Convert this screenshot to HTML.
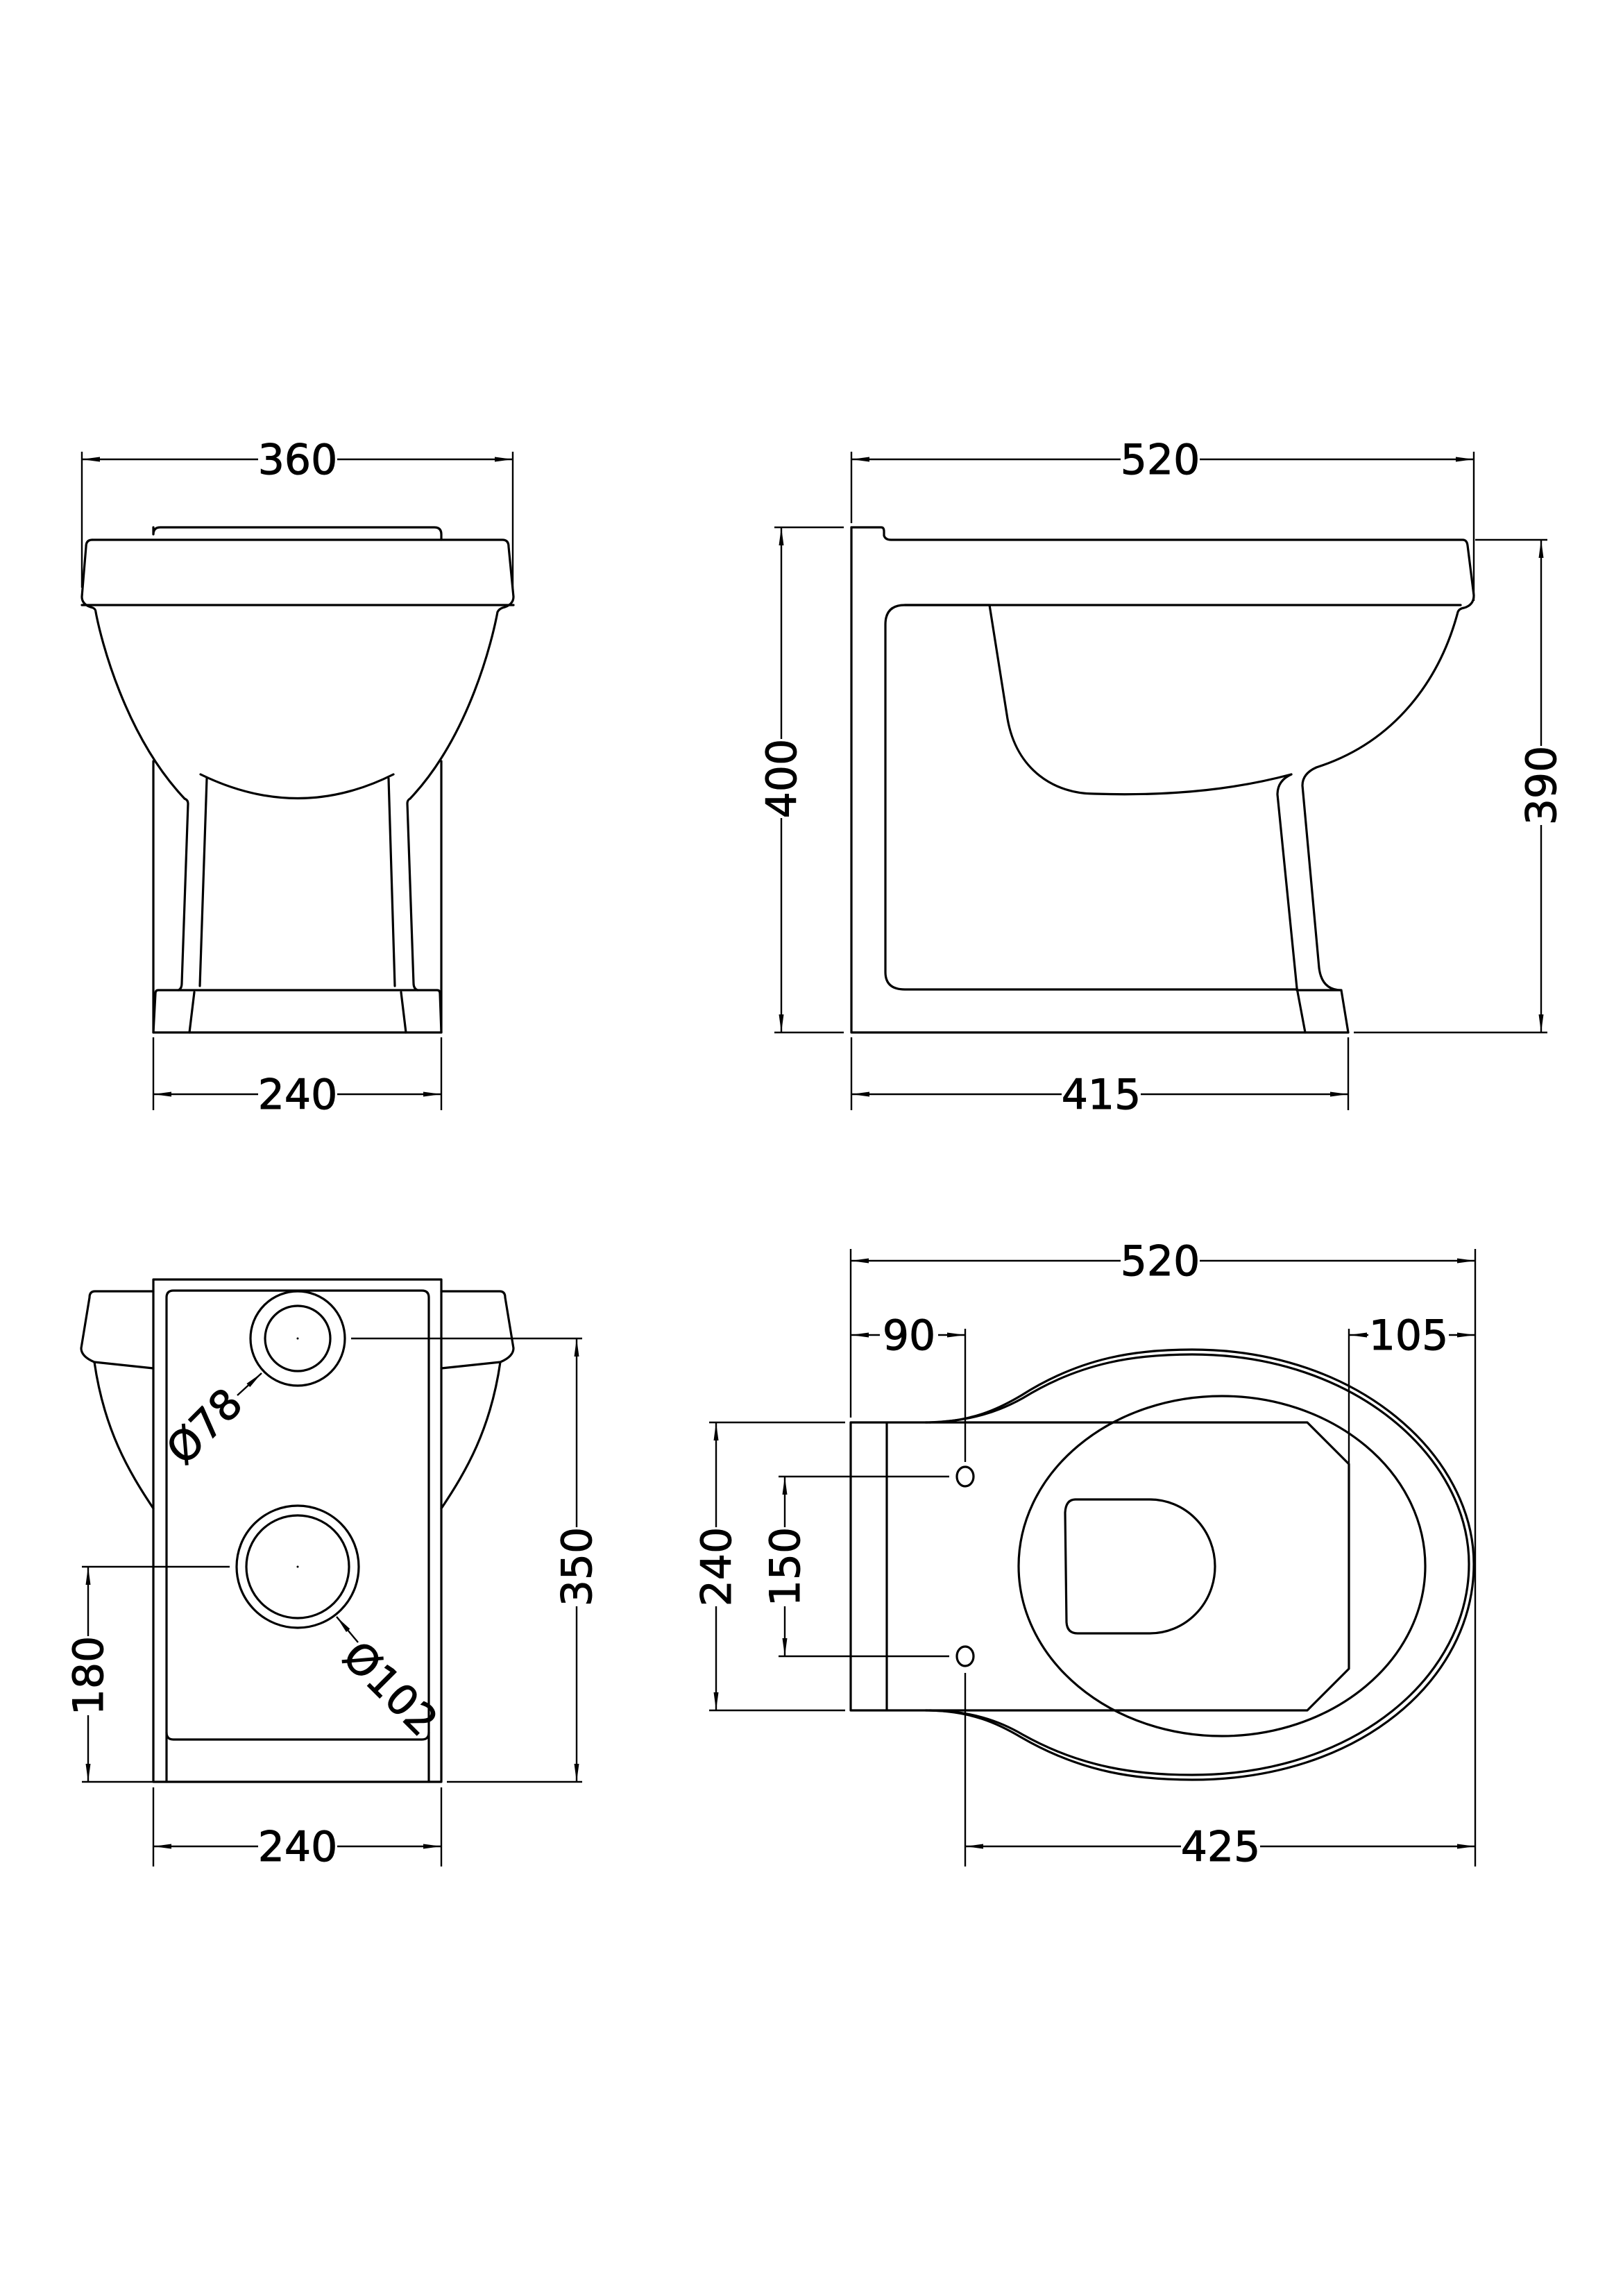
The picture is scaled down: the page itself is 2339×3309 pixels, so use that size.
<!DOCTYPE html>
<html><head><meta charset="utf-8"><style>html,body{margin:0;padding:0;background:#fff}svg{display:block}</style></head>
<body>
<svg xmlns="http://www.w3.org/2000/svg" width="2339" height="3309" viewBox="0 0 2339 3309">
<defs>
<marker id="a" viewBox="0 0 26 10" refX="26" refY="5" markerWidth="26" markerHeight="10" markerUnits="userSpaceOnUse" orient="auto-start-reverse"><path d="M26,5 L0,1.5 L0,8.5 Z" fill="#000"/></marker>
</defs>
<rect width="2339" height="3309" fill="#fff"/>
<g fill="none" stroke="#000" stroke-width="3.2" stroke-linejoin="round" stroke-linecap="round">
<!-- FRONT VIEW -->
<path d="M221,760 V770 Q221,760 231,760 H626 Q636,760 636,770 V778"/>
<path d="M133,778 H724 Q733,778 733,788 L740,860 Q740,872 724,876 Q719,878 717,882 C710,920 677,1060 591,1151"/>
<path d="M133,778 Q124,778 124,788 L118,860 Q118,872 134,876 Q138,878 138,882 C145,920 180,1060 266,1151"/>
<path d="M118,872 H740"/>
<path d="M221,1097 V1488 M636,1097 V1488 M221,1488 H636"/>
<path d="M266,1151 Q271,1153 271,1158 L262,1417 Q262,1425 257,1427"/>
<path d="M591,1151 Q587,1153 587,1158 L596,1417 Q596,1425 602,1427"/>
<path d="M289,1116 Q430,1185 567,1116"/>
<path d="M298,1122 L288,1421 M560,1122 L569,1421"/>
<path d="M228,1427 H630 M228,1427 Q224,1427 224,1432 L221,1488 M630,1427 Q634,1427 634,1432 L636,1488"/>
<path d="M280,1430 L273,1488 M578,1430 L585,1488"/>
<!-- SIDE VIEW -->
<path d="M1227,760 V1488 H1943"/>
<path d="M1227,760 H1270 Q1274,760 1274,766 V772 Q1276,778 1284,778 H2108 Q2114,778 2115,786 L2124,858 Q2124,872 2110,876 Q2103,877 2101,882 C2075,980 2010,1070 1897,1106"/>
<path d="M1304,872 H2105"/>
<path d="M1426,872 H1304 Q1276,872 1276,900 V1401 Q1276,1426 1304,1426 H1869"/>
<path d="M1426,872 L1452,1036 C1465,1110 1520,1144 1577,1144 C1700,1148 1790,1135 1861,1116"/>
<path d="M1861,1116 Q1841,1125 1841,1145 L1869,1424 L1881,1488"/>
<path d="M1897,1106 Q1877,1115 1877,1132 L1901,1395 Q1905,1427 1933,1427 L1943,1488 M1869,1427 H1933"/>
<!-- REAR VIEW -->
<rect x="221" y="1844" width="415" height="724"/>
<path d="M240,2568 V1870 Q240,1860 250,1860 H608 Q618,1860 618,1870 V2568"/>
<path d="M240,2497 Q240,2507 250,2507 H608 Q618,2507 618,2497"/>
<path d="M221,1861 H137 Q129,1861 129,1870 L117,1943 Q117,1955 136,1963 C150,2060 185,2120 221,2174 M136,1963 L221,1972"/>
<path d="M636,1861 H720 Q728,1861 728,1870 L740,1943 Q740,1955 721,1963 C707,2060 672,2120 636,2174 M721,1963 L636,1972"/>
<circle cx="429" cy="1929" r="68"/>
<circle cx="429" cy="1929" r="47"/>
<circle cx="429" cy="2258" r="88"/>
<circle cx="429" cy="2258" r="74"/>
<!-- PLAN VIEW -->
<path d="M1226,2050 V2465 M1278,2050 V2465 M1226,2050 H1884 L1944,2110 V2405 L1884,2465 H1226"/>
<path d="M1334,2050 C1400,2050 1440,2030 1472,2011 C1560,1955 1640,1945 1718,1945 C1960,1945 2124,2100 2124,2254 C2124,2420 1960,2565 1718,2565 C1640,2565 1560,2555 1472,2504 C1440,2485 1400,2465 1334,2465"/>
<path d="M1340,2050 C1400,2048 1440,2034 1474,2015 C1560,1962 1640,1952 1718,1952 C1955,1952 2117,2102 2117,2254 C2117,2414 1955,2558 1718,2558 C1640,2558 1560,2548 1474,2500 C1440,2480 1400,2466 1340,2465"/>
<ellipse cx="1761" cy="2257" rx="293" ry="245"/>
<path d="M1550,2161 H1657 A94,96.5 0 0 1 1657,2354 H1553 Q1538,2354 1537,2338 L1535,2180 Q1536,2161 1550,2161 Z"/>
<ellipse cx="1391" cy="2128" rx="12" ry="14"/>
<ellipse cx="1391" cy="2387" rx="12" ry="14"/>
</g>
<g fill="#000"><circle cx="429" cy="1929" r="1.5"/><circle cx="429" cy="2258" r="1.5"/></g>
<!-- DIMENSIONS -->
<g fill="none" stroke="#000" stroke-width="2.4">
<path d="M118,651 V847 M739,651 V847"/>
<path d="M118,662 H739" marker-start="url(#a)" marker-end="url(#a)"/>
<path d="M221,1495 V1600 M636,1495 V1600"/>
<path d="M221,1577 H636" marker-start="url(#a)" marker-end="url(#a)"/>
<path d="M1227,651 V754 M2124,651 V866"/>
<path d="M1227,662 H2124" marker-start="url(#a)" marker-end="url(#a)"/>
<path d="M1116,760 H1216 M1116,1488 H1216"/>
<path d="M1126,760 V1488" marker-start="url(#a)" marker-end="url(#a)"/>
<path d="M2126,778 H2230 M1951,1488 H2230"/>
<path d="M2221,778 V1488" marker-start="url(#a)" marker-end="url(#a)"/>
<path d="M1227,1495 V1600 M1943,1495 V1600"/>
<path d="M1227,1577 H1943" marker-start="url(#a)" marker-end="url(#a)"/>
<path d="M506,1929 H839 M644,2568 H839"/>
<path d="M831,1929 V2568" marker-start="url(#a)" marker-end="url(#a)"/>
<path d="M118,2258 H331 M118,2568 H221"/>
<path d="M127,2258 V2568" marker-start="url(#a)" marker-end="url(#a)"/>
<path d="M221,2576 V2690 M636,2576 V2690"/>
<path d="M221,2661 H636" marker-start="url(#a)" marker-end="url(#a)"/>
<path d="M342,2011 L377,1979" marker-end="url(#a)"/>
<path d="M516,2367 L485,2330" marker-end="url(#a)"/>
<path d="M1226,1800 V2043 M2126,1800 V2690"/>
<path d="M1226,1817 H2126" marker-start="url(#a)" marker-end="url(#a)"/>
<path d="M1391,1915 V2107 M1391,2411 V2690 M1944,1915 V2110"/>
<path d="M1226,1924 H1391" marker-start="url(#a)" marker-end="url(#a)"/>
<path d="M1944,1924 H2126" marker-start="url(#a)" marker-end="url(#a)"/>
<path d="M1022,2050 H1218 M1022,2465 H1218"/>
<path d="M1032,2050 V2465" marker-start="url(#a)" marker-end="url(#a)"/>
<path d="M1122,2128 H1368 M1122,2387 H1368"/>
<path d="M1131,2128 V2387" marker-start="url(#a)" marker-end="url(#a)"/>
<path d="M1391,2661 H2126" marker-start="url(#a)" marker-end="url(#a)"/>
</g>
<g font-family="'DejaVu Sans','Liberation Sans',sans-serif" font-size="60" text-anchor="middle" fill="#000" stroke="#000" stroke-width="1">
<g fill="#fff" stroke="none"><rect x="372" y="630" width="114" height="60"/><rect x="372" y="1545" width="114" height="60"/><rect x="1615" y="630" width="114" height="60"/><rect x="1530" y="1545" width="114" height="60"/>
<rect x="1096" y="1065" width="60" height="114"/><rect x="2191" y="1075" width="60" height="114"/><rect x="801" y="2201" width="60" height="114"/><rect x="97" y="2358" width="60" height="114"/>
<rect x="372" y="2629" width="114" height="60"/><rect x="1615" y="1785" width="114" height="60"/><rect x="1268" y="1892" width="84" height="60"/><rect x="1972" y="1892" width="116" height="60"/>
<rect x="1002" y="2201" width="60" height="114"/><rect x="1101" y="2201" width="60" height="114"/><rect x="1702" y="2629" width="114" height="60"/></g>
<text x="429" y="683">360</text>
<text x="429" y="1598">240</text>
<text x="1672" y="683">520</text>
<text x="1587" y="1598">415</text>
<text transform="translate(1147,1122) rotate(-90)">400</text>
<text transform="translate(2242,1132) rotate(-90)">390</text>
<text transform="translate(852,2258) rotate(-90)">350</text>
<text transform="translate(148,2415) rotate(-90)">180</text>
<text x="429" y="2682">240</text>
<text transform="translate(295,2056) rotate(-45)" dy="20">Ø78</text>
<text transform="translate(562,2434) rotate(45)" dy="20">Ø102</text>
<text x="1672" y="1838">520</text>
<text x="1310" y="1945">90</text>
<text x="2030" y="1945">105</text>
<text transform="translate(1053,2258) rotate(-90)">240</text>
<text transform="translate(1152,2258) rotate(-90)">150</text>
<text x="1759" y="2682">425</text>
</g>
</svg>
</body></html>
